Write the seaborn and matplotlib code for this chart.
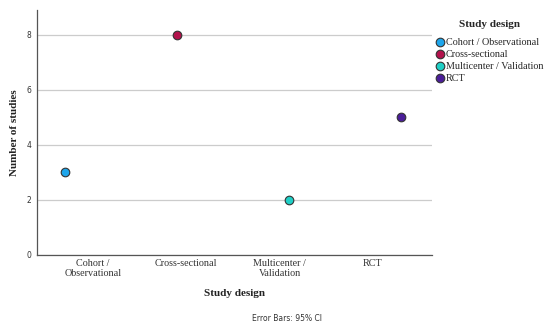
import pandas as pd
import matplotlib
matplotlib.use("Agg")
import matplotlib.pyplot as plt
from matplotlib.lines import Line2D
import seaborn as sns

# data
designs = ["Cohort / Observational", "Cross-sectional", "Multicenter / Validation", "RCT"]
tick_labels = ["Cohort /\nObservational", "Cross-sectional", "Multicenter /\nValidation", "RCT"]
n_studies = [3, 8, 2, 5]
colors = ["#1ea6ec", "#b3124c", "#1fcfc6", "#4b1e99"]

df = pd.DataFrame({"design": designs, "n": n_studies})

sns.set_theme(style="white")
serif = ["Liberation Serif", "DejaVu Serif"]
plt.rcParams["font.family"] = ["DejaVu Sans"]

fig = plt.figure(figsize=(5.5, 3.24), dpi=100)
ax = fig.add_axes([0.067, 0.213, 0.718, 0.756])

sns.stripplot(data=df, x="design", y="n", hue="design", order=designs,
              hue_order=designs, palette=colors, dodge=True, jitter=False,
              size=6.2, linewidth=0.8, edgecolor="#333333", ax=ax, zorder=3,
              legend=False)

ax.set_ylim(0, 8.9)
ax.set_xlim(-0.6, 3.63)
ax.set_yticks([0, 2, 4, 6, 8])
ax.yaxis.grid(True, color="#cccccc", linewidth=0.9)
ax.set_axisbelow(True)
for s in ["top", "right"]:
    ax.spines[s].set_visible(False)
for s in ["left", "bottom"]:
    ax.spines[s].set_color("#555555")
    ax.spines[s].set_linewidth(0.9)

ax.set_xticks(range(4))
ax.set_xticklabels(tick_labels, family=serif, fontsize=7.3, color="#333333",
                   linespacing=1.05)
ax.tick_params(axis="y", labelsize=5.5, length=0, pad=4, colors="#333333")
ax.tick_params(axis="x", length=0, pad=3)

ax.set_xlabel("Study design", family=serif, fontsize=8, fontweight="bold",
              labelpad=8, color="#222222")
ax.set_ylabel("Number of studies", family=serif, fontsize=8, fontweight="bold",
              labelpad=5, color="#222222")

handles = [Line2D([], [], marker="o", linestyle="", markersize=6.2,
                  markerfacecolor=c, markeredgecolor="#333333",
                  markeredgewidth=0.8) for c in colors]
leg = ax.legend(handles, designs, title="Study design", loc="upper left",
                bbox_to_anchor=(0.99, 0.99), frameon=False,
                prop={"family": serif, "size": 7.3}, handletextpad=0.1,
                labelspacing=0.28, borderaxespad=0.3, handlelength=1.0)
leg.get_title().set_fontfamily(serif)
leg.get_title().set_fontweight("bold")
leg.get_title().set_fontsize(8)
leg._legend_box.align = "center"
leg._legend_box.sep = 7

fig.text(0.522, 0.01, "Error Bars: 95% CI", fontsize=5.5, ha="center",
         color="#333333")

fig.savefig("out.png", dpi=100)
